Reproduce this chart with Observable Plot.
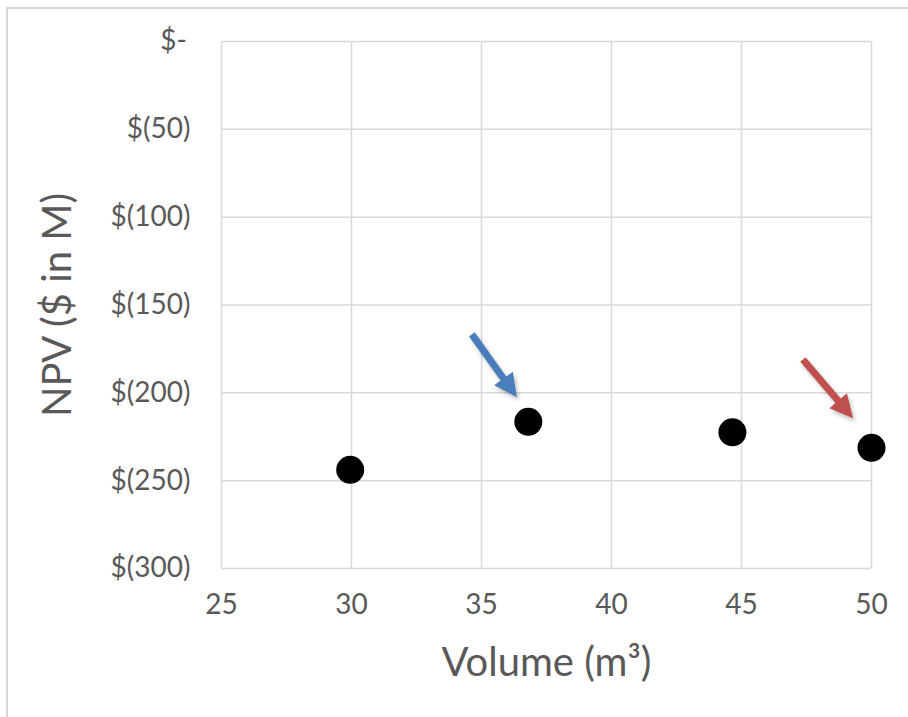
<!DOCTYPE html>
<html>
<head>
<meta charset="utf-8">
<script src="https://cdn.jsdelivr.net/npm/d3@7"></script>
<script src="https://cdn.jsdelivr.net/npm/@observablehq/plot@0.6"></script>
<style>
  html, body { margin: 0; padding: 0; background: #fff; overflow: hidden; }
  #wrap { position: relative; width: 908px; height: 717px; overflow: hidden; }
  #border { position: absolute; left: 6px; top: 7px; width: 1000px; height: 1000px; border: 2px solid #d9d9d9; box-sizing: border-box; }
  #chart { position: absolute; left: 0; top: 0; }
  g[aria-label="arrow"] { filter: drop-shadow(2px 3px 2px rgba(0,0,0,0.25)); }
</style>
</head>
<body>
<div id="wrap"><div id="border"></div><div id="chart"></div></div>
<script>
// Data
const volumes = [29.95, 36.8, 44.65, 50.0];
const npvs = [-243.8, -216.5, -222.5, -231.3];
const xTicks = [25, 30, 35, 40, 45, 50];
const yTicks = [0, -50, -100, -150, -200, -250, -300];
const arrowX1 = [34.65, 47.38];
const arrowY1 = [-167, -181.3];
const arrowX2 = [36.38, 49.31];
const arrowY2 = [-202.8, -214.8];
const arrowColors = ["#4A7EBB", "#C0504D"];
const xTitle = "Volume (m³)";
const yTitle = "NPV ($ in M)";

const points = volumes.map((v, i) => ({volume: v, npv: npvs[i]}));
const arrows = arrowX1.map((x, i) => ({x1: x, y1: arrowY1[i], x2: arrowX2[i], y2: arrowY2[i], color: arrowColors[i]}));

const fmtY = (d) => d === 0 ? "$-\u2009" : (d < 0 ? `$(${Math.abs(d)})` : `$${d}`);

const grey = "#595959";
const font = "Lato, 'Open Sans', sans-serif";

// Render arrows with filled triangular heads, using the scaled channel values
function filledArrows(index, scales, values, dimensions, context, next) {
  const X1 = values.x1, Y1 = values.y1, X2 = values.x2, Y2 = values.y2;
  if (!X1 || !Y1 || !X2 || !Y2) return next(index, scales, values, dimensions, context);
  const g = d3.create("svg:g").attr("aria-label", "arrow");
  const headLen = 23, headHalf = 11.5, shaft = 7;
  for (const i of index) {
    const x1 = X1[i], y1 = Y1[i], x2 = X2[i], y2 = Y2[i];
    const L = Math.hypot(x2 - x1, y2 - y1);
    const ux = (x2 - x1) / L, uy = (y2 - y1) / L;
    const px = -uy, py = ux;
    const bx = x2 - ux * headLen, by = y2 - uy * headLen;
    const color = arrows[i].color;
    g.append("line")
      .attr("x1", x1).attr("y1", y1)
      .attr("x2", bx + ux * 2).attr("y2", by + uy * 2)
      .attr("stroke", color).attr("stroke-width", shaft);
    g.append("path")
      .attr("d", `M${x2},${y2}L${bx + px * headHalf},${by + py * headHalf}L${bx - px * headHalf},${by - py * headHalf}Z`)
      .attr("fill", color);
  }
  return g.node();
}

const chart = Plot.plot({
  width: 908,
  height: 717,
  marginLeft: 221,
  marginRight: 37,
  marginTop: 41,
  marginBottom: 149,
  style: {fontFamily: font, background: "transparent", overflow: "visible"},
  x: {domain: [25, 50]},
  y: {domain: [-300, 0]},
  marks: [
    Plot.gridX(xTicks, {stroke: "#d9d9d9", strokeOpacity: 1, strokeWidth: 1.5}),
    Plot.gridY(yTicks, {stroke: "#d9d9d9", strokeOpacity: 1, strokeWidth: 1.5}),
    Plot.axisX(xTicks, {tickSize: 0, tickPadding: 26, fontSize: 28, fill: grey, label: null}),
    Plot.axisY(yTicks, {tickSize: 0, tickPadding: 31, fontSize: 28, fill: grey, label: null, tickFormat: fmtY}),
    Plot.text([xTitle], {frameAnchor: "bottom", textAnchor: "middle", lineAnchor: "middle", dy: 95, fontSize: 40, fill: grey}),
    Plot.text([yTitle], {frameAnchor: "left", textAnchor: "middle", lineAnchor: "middle", dx: -163, rotate: -90, fontSize: 40, fill: grey}),
    Plot.arrow(arrows, {x1: "x1", y1: "y1", x2: "x2", y2: "y2", stroke: "color", strokeWidth: 6, headLength: 6, headAngle: 70, render: filledArrows}),
    Plot.dot(points, {x: "volume", y: "npv", r: 14, fill: "black", stroke: "none"})
  ]
});
document.getElementById("chart").appendChild(chart);
</script>
</body>
</html>
